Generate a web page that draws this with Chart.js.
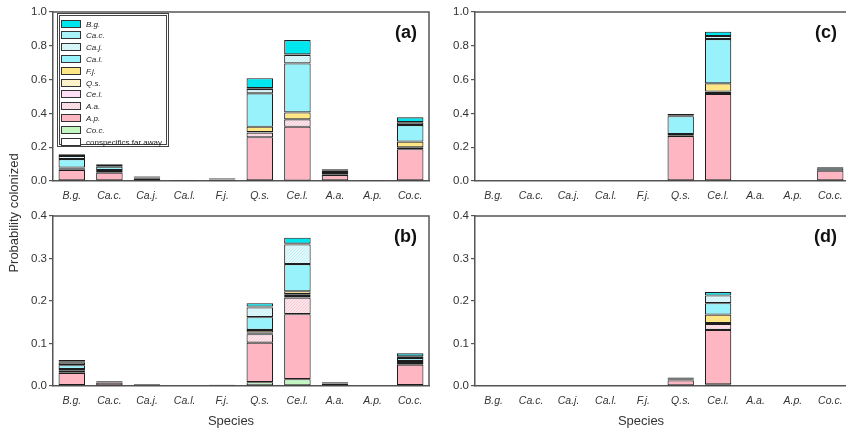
<!DOCTYPE html>
<html>
<head>
<meta charset="utf-8">
<script src="https://cdn.jsdelivr.net/npm/chart.js@4.4.0/dist/chart.umd.min.js"></script>
<style>
html, body { margin: 0; padding: 0; width: 846px; height: 432px; overflow: hidden; background: #fff; }
canvas { position: absolute; }
.lbl { position: absolute; color: #333; font: normal 13px "Liberation Sans", Arial, sans-serif; white-space: nowrap; text-align: center; height: 16px; line-height: 16px; }
</style>
</head>
<body>
<canvas id="pa" width="440" height="210" style="left:0;top:0"></canvas>
<canvas id="pb" width="440" height="232" style="left:0;top:200px"></canvas>
<canvas id="pc" width="430" height="210" style="left:422px;top:0"></canvas>
<canvas id="pd" width="430" height="232" style="left:422px;top:200px"></canvas>
<div class="lbl" style="left:-56px;top:205px;width:140px;transform:rotate(-90deg)">Probability colonized</div>
<div class="lbl" style="left:191px;top:413px;width:80px">Species</div>
<div class="lbl" style="left:601px;top:413px;width:80px">Species</div>
<script>
///////////////////////////////////////// Dati /////////////////////////////////////////
const species = ["B.g.", "Ca.c.", "Ca.j.", "Ca.l.", "F.j.", "Q.s.", "Ce.l.", "A.a.", "A.p.", "Co.c."];

// stack order, bottom to top (legend shows it reversed)
const sources = ["conspecifics far away", "Co.c.", "A.p.", "A.a.", "Ce.l.", "Q.s.", "F.j.", "Ca.l.", "Ca.j.", "Ca.c.", "B.g."];

const ticksTop = [0, 0.2, 0.4, 0.6, 0.8, 1.0];
const ticksBottom = [0, 0.1, 0.2, 0.3, 0.4];

// one row per source (same order as sources), one value per species
const panelA = [
    [0, 0, 0, 0, 0, 0, 0, 0, 0, 0],
    [0, 0, 0, 0, 0, 0, 0.003, 0, 0.001, 0],
    [0.065, 0.049, 0.016, 0.002, 0.006, 0.259, 0.318, 0.035, 0, 0.188],
    [0.005, 0.004, 0.004, 0, 0.003, 0.027, 0.044, 0, 0, 0.011],
    [0, 0, 0, 0, 0.002, 0.003, 0, 0.002, 0, 0],
    [0.003, 0, 0, 0, 0, 0, 0, 0.004, 0, 0],
    [0.007, 0.012, 0.005, 0.001, 0, 0.032, 0.041, 0.012, 0, 0.034],
    [0.05, 0.02, 0.003, 0, 0.004, 0.198, 0.29, 0.01, 0.002, 0.098],
    [0.018, 0.004, 0, 0, 0, 0.025, 0.05, 0, 0, 0.014],
    [0.01, 0, 0, 0, 0, 0.005, 0.003, 0, 0, 0.004],
    [0, 0.01, 0.002, 0, 0.003, 0.059, 0.085, 0.006, 0, 0.028]
];

const panelB = [
    [0.002, 0, 0, 0, 0, 0, 0, 0, 0, 0.002],
    [0, 0, 0, 0, 0, 0.009, 0.016, 0, 0, 0],
    [0.029, 0.008, 0.002, 0, 0.002, 0.093, 0.153, 0.006, 0, 0.048],
    [0.005, 0, 0, 0, 0, 0.02, 0.039, 0, 0, 0.004],
    [0, 0, 0, 0, 0, 0.002, 0.004, 0, 0, 0],
    [0, 0, 0, 0, 0, 0.002, 0.004, 0, 0, 0],
    [0.004, 0.002, 0, 0, 0, 0.006, 0.007, 0.001, 0, 0.005],
    [0.009, 0, 0.002, 0, 0, 0.03, 0.064, 0, 0, 0.007],
    [0.006, 0, 0, 0, 0, 0.023, 0.046, 0, 0, 0.004],
    [0.002, 0, 0, 0, 0, 0.002, 0.002, 0, 0, 0],
    [0.004, 0.002, 0, 0, 0.001, 0.008, 0.014, 0.002, 0, 0.007]
];

const panelC = [
    [0, 0, 0, 0, 0, 0, 0, 0, 0, 0],
    [0, 0, 0, 0, 0, 0, 0, 0, 0, 0],
    [0, 0, 0, 0, 0, 0.266, 0.515, 0, 0, 0.061],
    [0, 0, 0, 0, 0, 0, 0.006, 0, 0, 0],
    [0, 0, 0, 0, 0, 0.004, 0, 0, 0, 0],
    [0, 0, 0, 0, 0, 0, 0.008, 0, 0, 0],
    [0, 0, 0, 0, 0, 0.008, 0.049, 0, 0, 0],
    [0, 0, 0, 0, 0, 0.105, 0.262, 0, 0, 0.015],
    [0, 0, 0, 0, 0, 0.003, 0.018, 0, 0, 0],
    [0, 0, 0, 0, 0, 0, 0, 0, 0, 0],
    [0, 0, 0, 0, 0, 0.01, 0.025, 0, 0, 0.005]
];

const panelD = [
    [0, 0, 0, 0, 0, 0, 0, 0, 0, 0],
    [0, 0, 0, 0, 0, 0, 0.004, 0, 0, 0],
    [0, 0, 0, 0, 0, 0.013, 0.128, 0, 0, 0.001],
    [0, 0, 0, 0, 0, 0.002, 0.014, 0, 0, 0],
    [0, 0, 0, 0, 0, 0, 0, 0, 0, 0],
    [0, 0, 0, 0, 0, 0, 0.002, 0, 0, 0],
    [0, 0, 0, 0, 0, 0.002, 0.02, 0, 0, 0],
    [0, 0, 0, 0, 0, 0, 0.027, 0, 0, 0],
    [0, 0, 0, 0, 0, 0, 0.018, 0, 0, 0],
    [0, 0, 0, 0, 0, 0, 0, 0, 0, 0],
    [0, 0, 0, 0, 0, 0.003, 0.008, 0, 0, 0]
];

///////////////////////////////////////// Stili /////////////////////////////////////////
const FONT = '"Liberation Sans", Arial, sans-serif';
Chart.defaults.font.family = FONT;
Chart.defaults.color = "#333";

// fine hatched fill for the striped legend entries
const tratteggio = function (fondo, linea) {
    const c = document.createElement("canvas");
    c.width = 3;
    c.height = 3;
    const x = c.getContext("2d");
    x.fillStyle = fondo;
    x.fillRect(0, 0, 3, 3);
    x.strokeStyle = linea;
    x.lineWidth = 0.7;
    x.beginPath();
    x.moveTo(0, 3); x.lineTo(3, 0);
    x.moveTo(-1, 1); x.lineTo(1, -1);
    x.moveTo(2, 4); x.lineTo(4, 2);
    x.stroke();
    return x.createPattern(c, "repeat");
};

const fills = [
    "#ffffff",
    "#c4f6c2",
    "#ffb6c3",
    tratteggio("#fce6ec", "#f4bccb"),
    "#ffdff6",
    tratteggio("#fff8d8", "#f3e39a"),
    "#ffe786",
    "#98f2fc",
    tratteggio("#e4f9fb", "#ade9f0"),
    "#a8f2f8",
    "#00e6ee"
];

///////////////////////////////////////// Plugin /////////////////////////////////////////
const cornice = {
    id: "cornice",
    afterDraw(chart, args, opts) {
        const { ctx, chartArea: a } = chart;
        ctx.save();
        ctx.strokeStyle = "#555";
        ctx.lineWidth = 1.5;
        ctx.beginPath();
        ctx.moveTo(a.left, a.top);
        ctx.lineTo(a.right, a.top);
        ctx.lineTo(a.right, a.bottom);
        ctx.stroke();
        ctx.fillStyle = "#111";
        ctx.font = "bold 18px " + FONT;
        ctx.textAlign = "right";
        ctx.textBaseline = "middle";
        ctx.fillText(opts.text, a.right - 12, a.top + 21);
        ctx.restore();
    }
};

const legendaInterna = {
    id: "legendaInterna",
    afterDraw(chart, args, opts) {
        if (!opts.show) return;
        const { ctx, chartArea: a } = chart;
        const x0 = a.left + 4, y0 = a.top + 1, w = 112, h = 134;
        ctx.save();
        ctx.fillStyle = "#fff";
        ctx.fillRect(x0, y0, w, h);
        ctx.strokeStyle = "#444";
        ctx.lineWidth = 1;
        ctx.strokeRect(x0 + 0.5, y0 + 0.5, w - 1, h - 1);
        ctx.strokeRect(x0 + 2.5, y0 + 2.5, w - 5, h - 5);
        const ds = chart.data.datasets.slice().reverse();
        ds.forEach(function (d, i) {
            const y = Math.round(y0 + 6.5 + i * 11.8);
            ctx.fillStyle = d.backgroundColor;
            ctx.fillRect(x0 + 4, y, 20, 8);
            ctx.strokeStyle = "#333";
            ctx.strokeRect(x0 + 4.5, y + 0.5, 19, 7);
            ctx.fillStyle = "#222";
            const corsivo = d.label === "conspecifics far away" ? "" : "italic ";
            ctx.font = corsivo + "8px " + FONT;
            ctx.textBaseline = "middle";
            ctx.fillText(d.label, x0 + 29, y + 4.5);
        });
        ctx.restore();
    }
};

///////////////////////////////////////// Grafici /////////////////////////////////////////
const disegnaPannello = function (id, valori, tacche, etichetta, conLegenda, pad) {
    const datasets = sources.map(function (nome, i) {
        return {
            label: nome,
            data: valori[i].map(v => (v === 0 ? null : v)),
            backgroundColor: fills[i],
            borderColor: "#1e1e1e",
            borderWidth: 1.1,
            borderSkipped: false,
            barPercentage: 0.705,
            categoryPercentage: 1
        };
    });

    return new Chart(document.getElementById(id), {
        type: "bar",
        data: { labels: species, datasets: datasets },
        plugins: [cornice, legendaInterna],
        options: {
            responsive: false,
            animation: false,
            devicePixelRatio: 1,
            layout: { padding: pad },
            plugins: {
                legend: { display: false },
                tooltip: { enabled: false },
                cornice: { text: etichetta },
                legendaInterna: { show: conLegenda }
            },
            scales: {
                x: {
                    stacked: true,
                    grid: { display: false, drawTicks: false },
                    border: { color: "#555", width: 1.5 },
                    ticks: {
                        autoSkip: false,
                        maxRotation: 0,
                        padding: 9,
                        color: "#333",
                        font: { size: 10.5, style: "italic" }
                    },
                    afterFit(s) { s.height = pad.xh; }
                },
                y: {
                    stacked: true,
                    min: tacche[0],
                    max: tacche[tacche.length - 1],
                    afterBuildTicks(s) { s.ticks = tacche.map(v => ({ value: v })); },
                    grid: { drawOnChartArea: false, tickLength: 4, color: "#555", lineWidth: 1.2 },
                    border: { color: "#555", width: 1.5 },
                    ticks: {
                        padding: 2,
                        color: "#333",
                        font: { size: 11.5 },
                        callback: v => Number(v).toFixed(1)
                    },
                    afterFit(s) { s.width = 53; }
                }
            }
        }
    });
};

disegnaPannello("pa", panelA, ticksTop, "(a)", true, { top: 12, right: 11, left: 0, bottom: 0, xh: 29 });
disegnaPannello("pb", panelB, ticksBottom, "(b)", false, { top: 16, right: 11, left: 0, bottom: 0, xh: 46 });
disegnaPannello("pc", panelC, ticksTop, "(c)", false, { top: 12, right: 3, left: 0, bottom: 0, xh: 29 });
disegnaPannello("pd", panelD, ticksBottom, "(d)", false, { top: 16, right: 3, left: 0, bottom: 0, xh: 46 });
</script>
</body>
</html>
